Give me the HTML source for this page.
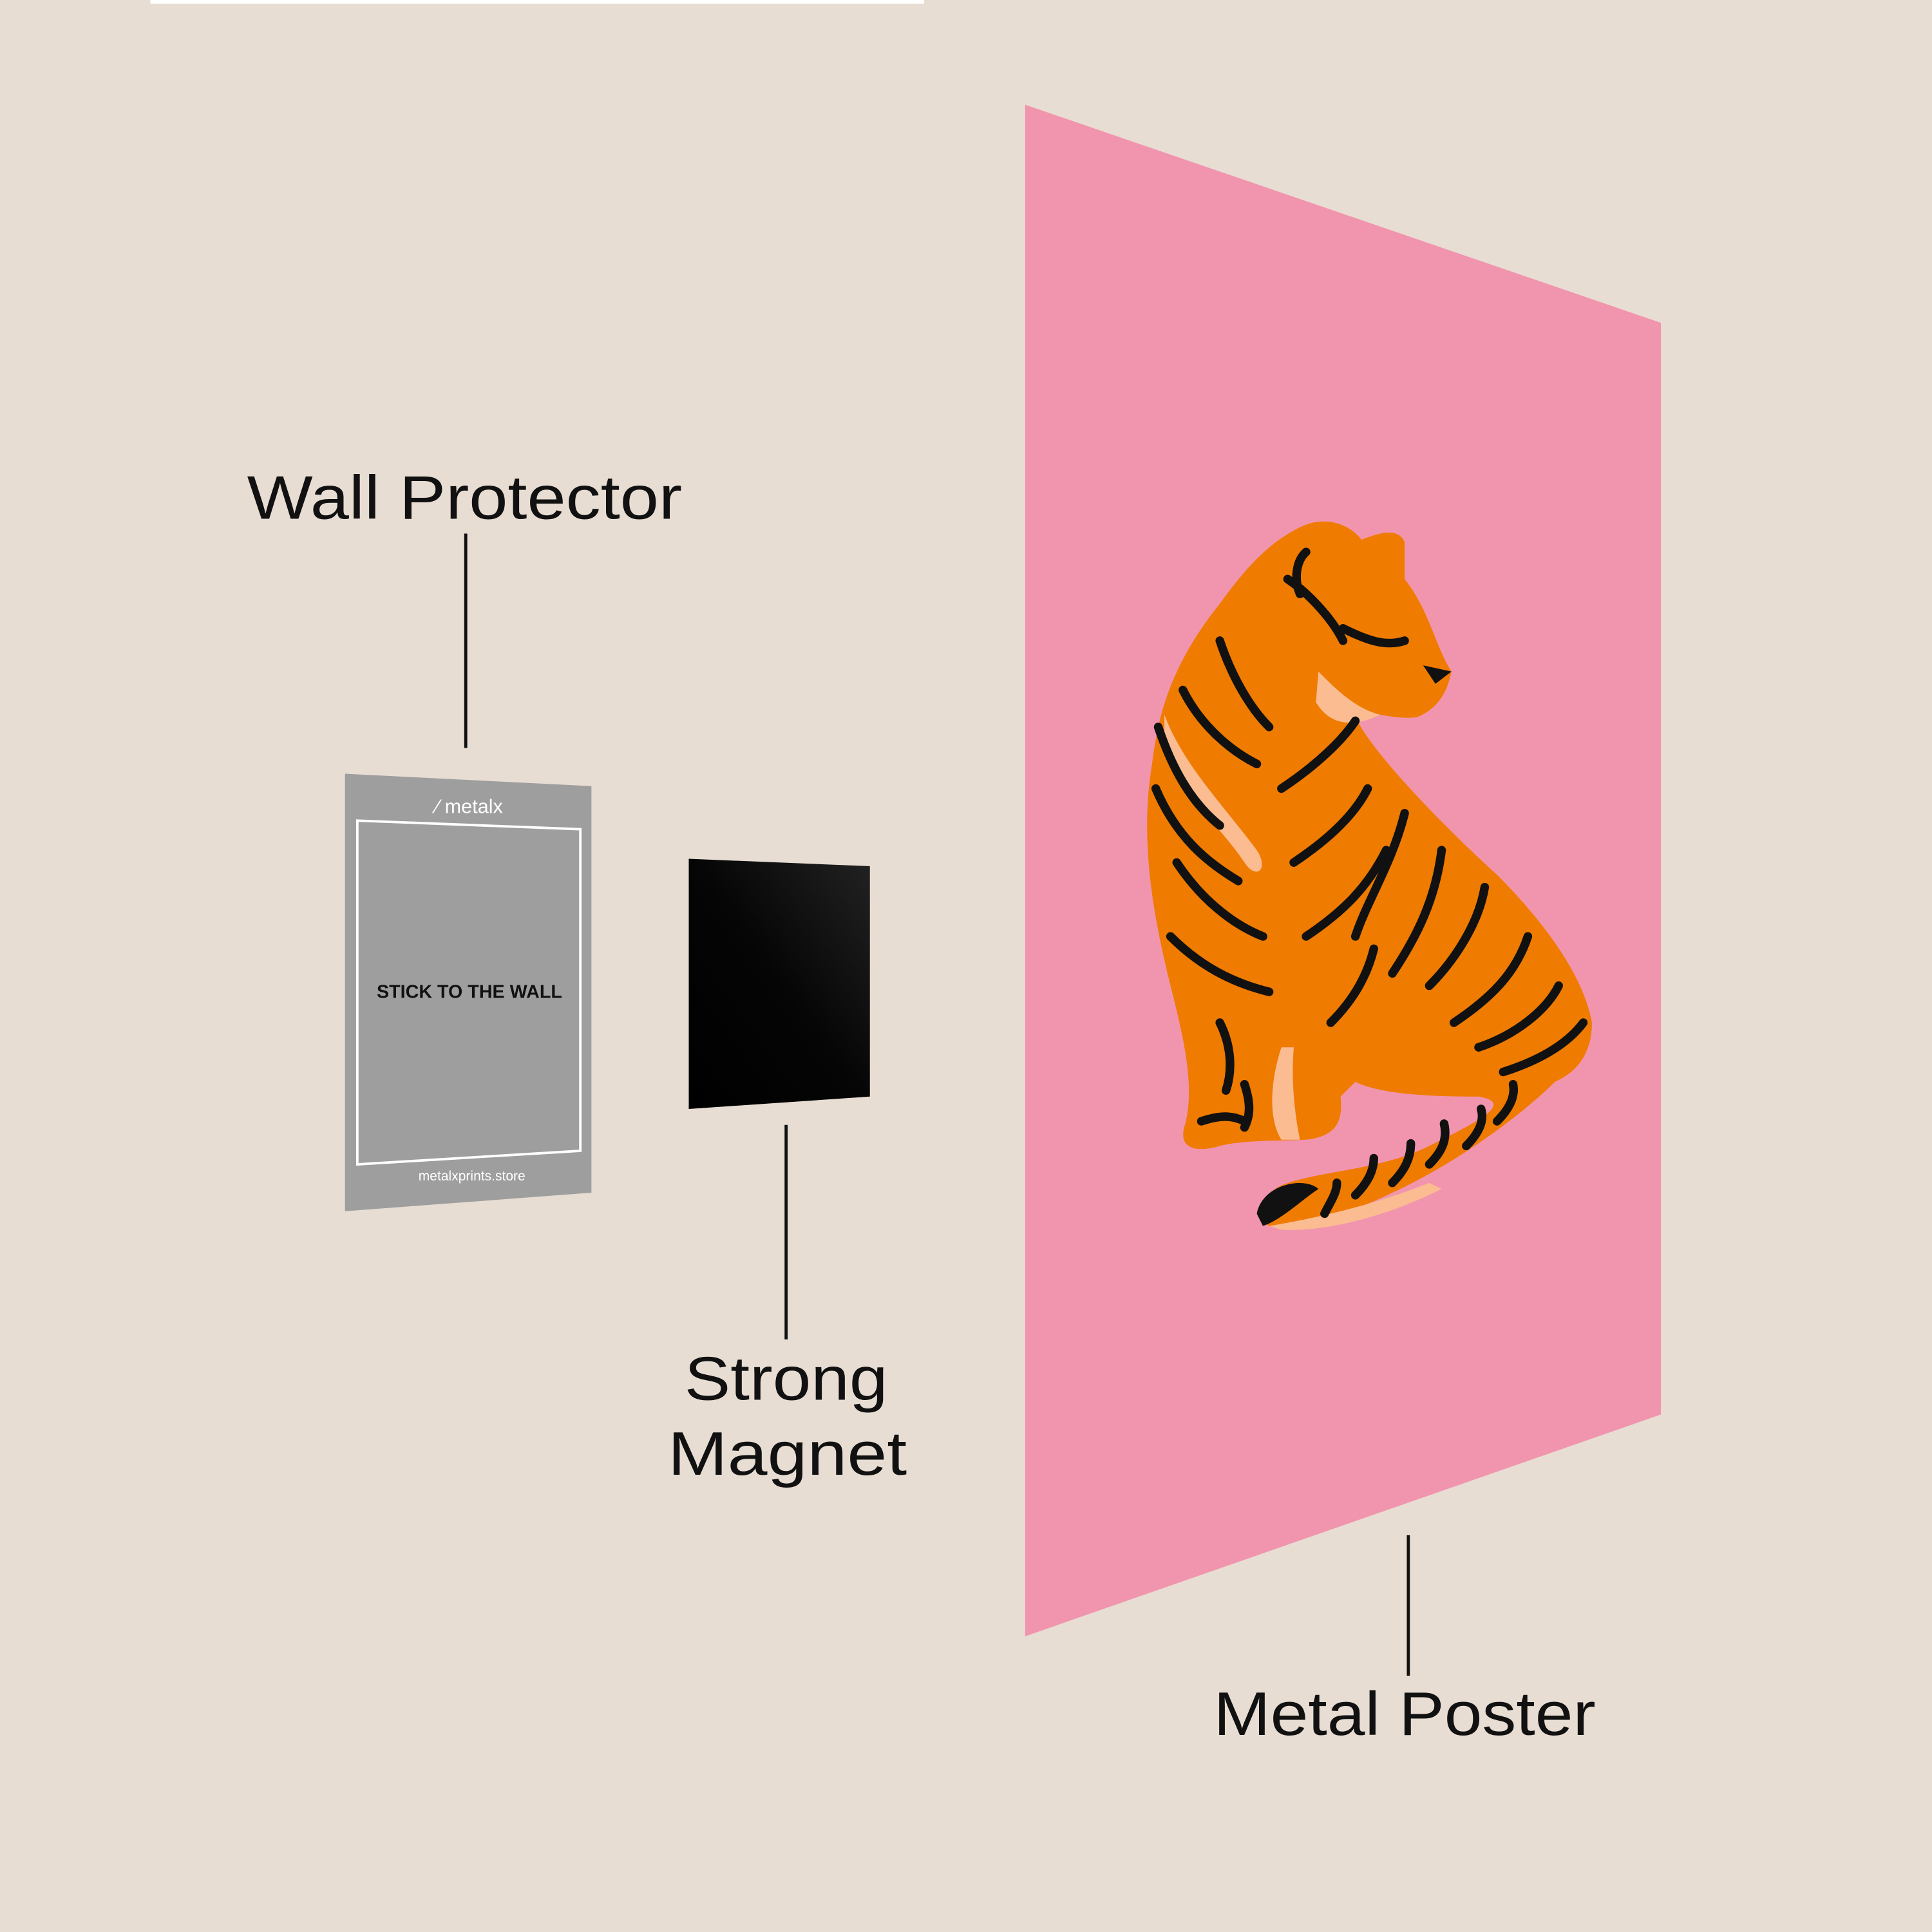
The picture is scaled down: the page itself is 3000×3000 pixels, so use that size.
<!DOCTYPE html>
<html><head><meta charset="utf-8"><style>
html,body{margin:0;padding:0;background:#e8ddd3;}
svg{display:block;}
</style></head><body>
<svg width="3000" height="3000" viewBox="0 0 1568 1568" xmlns="http://www.w3.org/2000/svg">
<rect width="1568" height="1568" fill="#e8ddd3"/>
<rect x="122" y="0" width="628" height="3" fill="#ffffff"/>
<!-- poster -->
<polygon points="832,85 1348,262 1348,1148 832,1328" fill="#f195ae"/>
<!-- tiger -->
<g>
<path d="M1055,428 C1075,418 1095,425 1105,438 C1120,432 1135,428 1140,440 L1140,470 C1160,495 1165,525 1178,545 C1175,560 1168,575 1150,582 C1130,585 1110,575 1100,580 C1105,600 1160,660 1215,710 C1250,745 1285,790 1292,830 C1292,855 1280,870 1262,878 C1240,900 1190,940 1130,968 C1095,985 1060,995 1030,995 C1018,990 1020,972 1040,962 C1070,950 1120,950 1160,930 C1200,910 1230,895 1200,890 C1160,890 1120,888 1100,878 L1088,890 C1090,910 1085,922 1060,925 C1040,926 1010,925 990,930 C970,936 955,932 962,912 C970,880 960,840 950,800 C935,740 925,680 935,620 C940,580 950,540 990,490 C1010,462 1030,440 1055,428 Z" fill="#ef7b00"/>
<path d="M945,580 C960,620 990,650 1020,690 C1030,705 1020,715 1010,700 C990,670 955,640 945,610 Z" fill="#fbbc92"/>
<path d="M1040,850 C1030,880 1030,910 1040,925 L1055,925 C1050,900 1048,875 1050,850 Z" fill="#fbbc92"/>
<path d="M1070,545 C1085,560 1100,575 1120,580 C1100,590 1080,590 1068,570 Z" fill="#fbbc92"/>
<path d="M1030,995 C1060,990 1110,980 1160,960 L1170,965 C1120,990 1070,1000 1040,998 Z" fill="#fbbc92"/>
<path d="M1020,985 C1025,960 1060,955 1070,965 C1055,975 1040,990 1025,995 Z" fill="#111"/>
<g stroke="#111" stroke-width="7" stroke-linecap="round" fill="none">
<path d="M940,590 C950,620 965,650 990,670"/>
<path d="M938,640 C955,680 980,700 1005,715"/>
<path d="M955,700 C975,730 1000,750 1025,760"/>
<path d="M950,760 C980,790 1010,800 1030,805"/>
<path d="M960,560 C975,590 1000,610 1020,620"/>
<path d="M990,520 C1000,550 1015,575 1030,590"/>
<path d="M1045,470 C1060,480 1080,500 1090,520"/>
<path d="M1040,640 C1070,620 1090,600 1100,585"/>
<path d="M1050,700 C1080,680 1100,660 1110,640"/>
<path d="M1060,760 C1090,740 1110,720 1125,690"/>
<path d="M1100,760 C1110,730 1130,700 1140,660"/>
<path d="M1130,790 C1150,760 1165,730 1170,690"/>
<path d="M1160,800 C1180,780 1200,750 1205,720"/>
<path d="M1180,830 C1210,810 1230,790 1240,760"/>
<path d="M1200,850 C1230,840 1255,820 1265,800"/>
<path d="M1220,870 C1245,862 1270,850 1285,830"/>
<path d="M1080,830 C1100,810 1110,790 1115,770"/>
<path d="M990,830 C1000,850 1000,870 995,885"/>
<path d="M1010,880 C1015,895 1015,905 1010,915"/>
<path d="M975,910 C990,905 1000,905 1010,910"/>
<path d="M1100,970 C1110,960 1115,950 1115,940"/>
<path d="M1130,960 C1140,950 1145,940 1145,928"/>
<path d="M1160,945 C1170,935 1175,925 1172,912"/>
<path d="M1190,930 C1200,920 1205,910 1202,900"/>
<path d="M1215,910 C1225,900 1230,890 1228,880"/>
<path d="M1075,985 C1080,975 1085,968 1085,960"/>
<path d="M1055,482 C1050,470 1052,455 1060,448"/>
<path d="M1090,510 C1110,520 1125,525 1140,520"/>
</g>
<path d="M1155,540 L1178,545 L1165,555 Z" fill="#111"/>
</g>
<!-- wall protector -->
<polygon points="280,628 480,638 480,968 280,983" fill="#9e9e9e"/>
<polygon points="290,666 471,673 471,934 290,945" fill="none" stroke="#fff" stroke-width="2"/>
<text x="381" y="660" font-family="Liberation Sans, sans-serif" font-size="16" fill="#fff" text-anchor="middle">⁄ metalx</text>
<text x="381" y="810" font-family="Liberation Sans, sans-serif" font-size="15" font-weight="bold" fill="#111" text-anchor="middle">STICK TO THE WALL</text>
<text x="383" y="958" font-family="Liberation Sans, sans-serif" font-size="11" fill="#fff" text-anchor="middle">metalxprints.store</text>
<!-- magnet -->
<defs><linearGradient id="mg" x1="1" y1="0" x2="0" y2="1"><stop offset="0" stop-color="#222"/><stop offset="0.5" stop-color="#050505"/><stop offset="1" stop-color="#000"/></linearGradient></defs>
<polygon points="559,697 706,703 706,890 559,900" fill="url(#mg)"/>
<!-- lines -->
<g stroke="#111" stroke-width="2.5">
<line x1="378" y1="433" x2="378" y2="607"/>
<line x1="638" y1="913" x2="638" y2="1087"/>
<line x1="1143" y1="1246" x2="1143" y2="1360"/>
</g>
<g font-family="Liberation Sans, sans-serif" font-size="50" fill="#111" text-anchor="middle">
<text x="377" y="421" textLength="353" lengthAdjust="spacingAndGlyphs">Wall Protector</text>
<text x="638" y="1136" textLength="165" lengthAdjust="spacingAndGlyphs">Strong</text>
<text x="639" y="1197" textLength="194" lengthAdjust="spacingAndGlyphs">Magnet</text>
<text x="1140" y="1408" textLength="310" lengthAdjust="spacingAndGlyphs">Metal Poster</text>
</g>
</svg>
</body></html>
